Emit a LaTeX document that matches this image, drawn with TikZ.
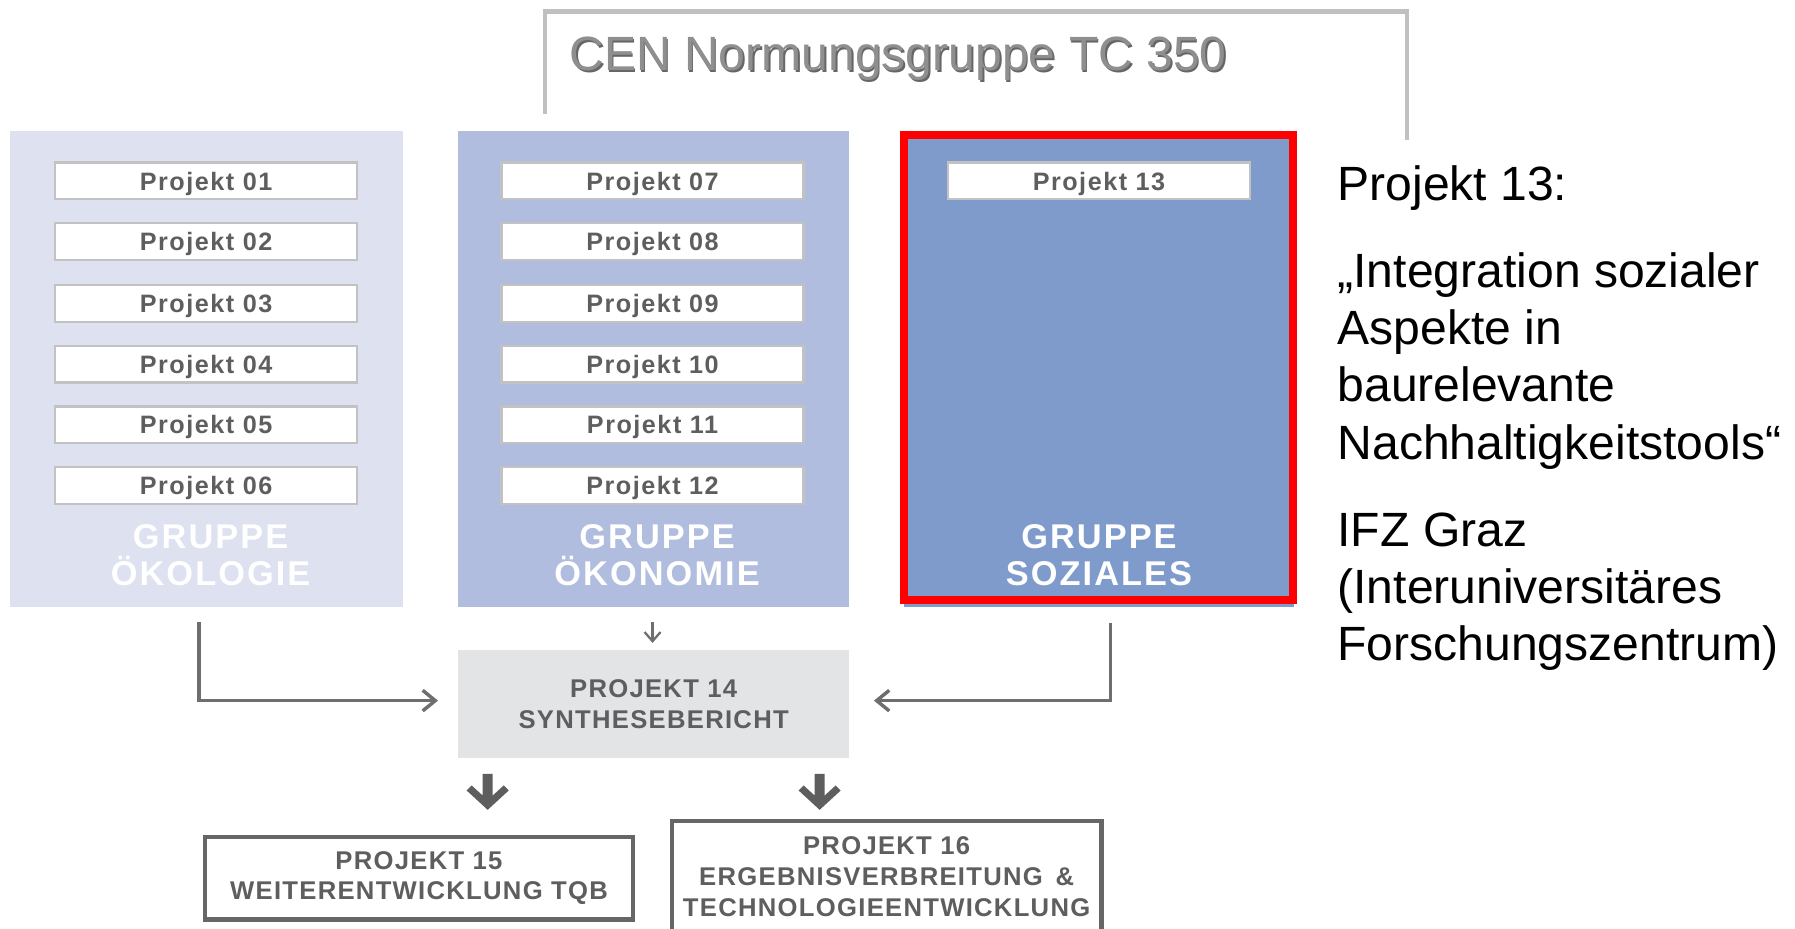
\documentclass[tikz,border=0pt]{standalone}
\usepackage{fontspec}
\setmainfont{Liberation Sans}
\newfontfamily\projfont[LetterSpace=6]{Liberation Sans}
\newfontfamily\grpfont[LetterSpace=6]{Liberation Sans}
\newfontfamily\capfont[LetterSpace=5]{Liberation Sans}
\usetikzlibrary{arrows.meta}
\definecolor{oekc}{HTML}{DDE1F0}
\definecolor{oknc}{HTML}{B0BDDE}
\definecolor{sozc}{HTML}{7F9BCB}
\definecolor{txtg}{HTML}{5E5E5E}
\definecolor{lineg}{HTML}{6E6E6E}
\definecolor{brk}{HTML}{C0C0C0}
\definecolor{p14c}{HTML}{E3E4E6}
\definecolor{ttl}{HTML}{8F8F8F}
\definecolor{ttls}{HTML}{666666}
\definecolor{boxb}{HTML}{666666}
\begin{document}
\begin{tikzpicture}[x=0.5pt,y=-0.5pt,
  panel/.style={inner sep=0pt, minimum width=171pt, minimum height=208pt},
  pbox/.style={fill=white, draw=black!24, line width=1pt, minimum width=132pt, minimum height=16pt, inner sep=0pt, text depth=0pt, font=\projfont\bfseries\fontsize{11}{11}\selectfont, text=txtg},
  gruppe/.style={text=white, inner sep=0pt, font=\grpfont\bfseries\fontsize{15}{16}\selectfont, align=center},
  synth/.style={inner sep=0pt, align=center, text=txtg, font=\capfont\bfseries\fontsize{11.2}{13.5}\selectfont},
  outbox/.style={synth, draw=boxb, line width=2pt, fill=white},
  rtext/.style={anchor=base west, inner sep=0pt, font=\fontsize{21}{25}\selectfont},
  conn/.style={draw=lineg, line width=1.5pt, -{Straight Barb[length=5.5pt,width=9pt]}},
  smallarr/.style={draw=lineg, line width=1pt, -{Straight Barb[length=4pt,width=7pt]}},
  bigarr/.style={fill=txtg}
]
\useasboundingbox (0,0) rectangle (1568,811);
\fill[white] (0,0) rectangle (1568,811);

% top bracket and title
\draw[brk, line width=2pt] (476,100) -- (476,10) -- (1229,10) -- (1229,122);
\node[anchor=base west, inner sep=0pt, text=ttls, font=\fontsize{21}{25}\selectfont] (titles) at (498.5,63.5) {CEN Normungsgruppe TC 350};
\node[anchor=base west, inner sep=0pt, text=ttl, font=\fontsize{21}{25}\selectfont] (title) at (497,62) {CEN Normungsgruppe TC 350};

% panels
\node[panel, fill=oekc, minimum width=171.5pt] (oek) at (180.5,322) {};
\node[panel, fill=oknc] (okn) at (571,322) {};
\node[panel, fill=sozc, minimum width=170.5pt, minimum height=207pt] (soz) at (960,323.5) {};
\node[draw=red, line width=3.5pt, inner sep=0pt, minimum width=170pt, minimum height=203.5pt] (hl) at (959.5,321) {};

% project boxes
\foreach \i/\y in {01/158,02/211,03/265,04/318,05/371,06/424}
  \node[pbox] (p\i) at (180,\y) {Projekt \i};
\foreach \i/\y in {07/158,08/211,09/265,10/318,11/371,12/424}
  \node[pbox] (p\i) at (570,\y) {Projekt \i};
\node[pbox] (p13) at (960,158) {Projekt 13};

% group labels
\node[gruppe] (g1) at (184,485) {GRUPPE\\ÖKOLOGIE};
\node[gruppe] (g2) at (574,485) {GRUPPE\\ÖKONOMIE};
\node[gruppe] (g3) at (960,485) {GRUPPE\\SOZIALES};

% synthesis and outputs
\node[synth, fill=p14c, minimum width=171pt, minimum height=47pt] (p14) at (571,615) {PROJEKT 14\\SYNTHESEBERICHT};
\node[outbox, minimum width=187pt, minimum height=36pt] (p15) at (366,767) {PROJEKT 15\\WEITERENTWICKLUNG TQB};
\node[outbox, minimum width=187.5pt, minimum height=49pt, align=center] (p16) at (774.5,766) {PROJEKT 16\\ERGEBNISVERBREITUNG \,\&\\TECHNOLOGIEENTWICKLUNG};

% connectors
\coordinate (s1) at ([xshift=-3.25pt,yshift=-6.5pt]oek.south);
\coordinate (s2) at ([xshift=5pt,yshift=-6.5pt]soz.south);
\draw[conn] (s1) |- ([xshift=-8.5pt,yshift=1.5pt]p14.west);
\draw[conn] (s2) |- ([xshift=10.5pt,yshift=1.5pt]p14.east);
\draw[smallarr] ([xshift=-0.5pt,yshift=-6.5pt]okn.south) -- ([xshift=-0.5pt,yshift=3pt]p14.north);
\coordinate (b1) at ([xshift=-72.5pt,yshift=-6.75pt]p14.south);
\coordinate (b2) at ([xshift=72.5pt,yshift=-6.75pt]p14.south);
\foreach \b in {b1,b2}
  \fill[bigarr, shift={(\b)}] (-4.4,0) -- (4.4,0) -- (4.4,19) -- (14,10.2) -- (18.4,14.6)
     -- (0,31.5) -- (-18.4,14.6) -- (-14,10.2) -- (-4.4,19) -- cycle;

% right-hand text
\node[rtext] (r1) at (1168,175) {Projekt 13:};
\node[rtext] (r2) at (1168,251) {„Integration sozialer};
\node[rtext] (r3) at (1168,301) {Aspekte in};
\node[rtext] (r4) at (1168,351) {baurelevante};
\node[rtext] (r5) at (1168,401) {Nachhaltigkeitstools“};
\node[rtext] (r6) at (1168,477) {IFZ Graz};
\node[rtext] (r7) at (1168,527) {(Interuniversitäres};
\node[rtext] (r8) at (1168,577) {Forschungszentrum)};
\end{tikzpicture}
\end{document}
